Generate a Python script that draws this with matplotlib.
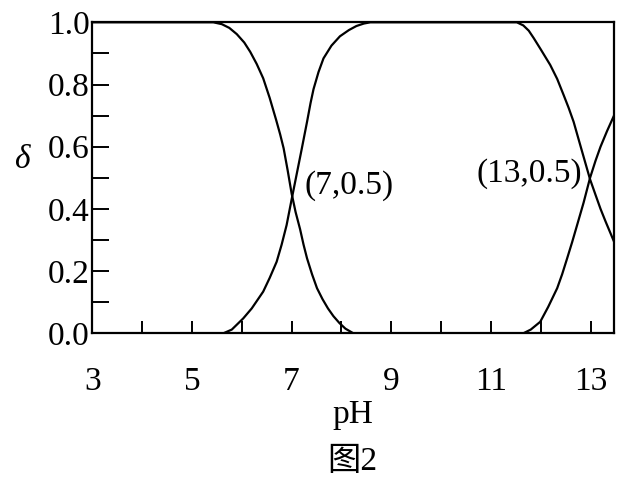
import matplotlib.pyplot as plt

# values (pH, delta)
ph_a = [3.0, 5.43, 5.6, 5.75, 5.9, 6.05, 6.17, 6.3, 6.43, 6.56, 6.69, 6.77, 6.84, 6.92, 7.0,
        7.08, 7.17, 7.24, 7.31, 7.41, 7.51, 7.62, 7.73, 7.84, 7.96, 8.08, 8.24]
delta_a = [1.0, 1.0, 0.994, 0.982, 0.962, 0.935, 0.905, 0.866, 0.82, 0.757, 0.686, 0.64, 0.595, 0.525, 0.45,
           0.39, 0.335, 0.285, 0.241, 0.19, 0.145, 0.11, 0.08, 0.055, 0.033, 0.015, 0.0]

ph_b = [5.63, 5.8, 6.03, 6.2, 6.43, 6.56, 6.70, 6.80, 6.90, 7.0, 7.1, 7.2, 7.31, 7.38, 7.44,
        7.54, 7.64, 7.8, 7.97, 8.15, 8.3, 8.45, 8.58,
        11.52, 11.65, 11.76, 11.86, 12.0, 12.19, 12.33, 12.46, 12.56, 12.66, 12.82, 12.99,
        13.1, 13.2, 13.3, 13.47]
delta_b = [0.0, 0.012, 0.048, 0.08, 0.134, 0.178, 0.23, 0.285, 0.348, 0.43, 0.51, 0.59, 0.68, 0.74, 0.785,
           0.84, 0.884, 0.925, 0.955, 0.975, 0.988, 0.996, 1.0,
           1.0, 0.99, 0.973, 0.949, 0.913, 0.863, 0.818, 0.766, 0.725, 0.68, 0.59, 0.495,
           0.445, 0.40, 0.36, 0.295]

ph_c = [11.65, 11.8, 11.99, 12.15, 12.33, 12.43, 12.53, 12.63, 12.73, 12.86, 12.99, 13.1, 13.2, 13.33, 13.47]
delta_c = [0.0, 0.012, 0.037, 0.085, 0.145, 0.19, 0.241, 0.293, 0.348, 0.42, 0.50, 0.555, 0.60, 0.65, 0.70]

x_ticks = [3, 4, 5, 6, 7, 8, 9, 10, 11, 12, 13]
x_labels = ['3', '', '5', '', '7', '', '9', '', '11', '', '13']
y_ticks = [0.0, 0.1, 0.2, 0.3, 0.4, 0.5, 0.6, 0.7, 0.8, 0.9, 1.0]
y_labels = ['0.0', '', '0.2', '', '0.4', '', '0.6', '', '0.8', '', '1.0']

plt.rcParams['font.family'] = ['Liberation Serif', 'Noto Sans CJK SC']

fig = plt.figure(figsize=(6.21, 4.88), dpi=100)
ax = fig.add_axes([0.1486, 0.317, 0.8401, 0.6373])

# three species curves
for xs, ys in [(ph_a, delta_a), (ph_b, delta_b), (ph_c, delta_c)]:
    ax.plot(xs, ys, color='black', linewidth=1.6, solid_joinstyle='round', solid_capstyle='round')

ax.set_xlim(3, 13.47)
ax.set_ylim(0, 1)
ax.set_xticks(x_ticks)
ax.set_xticklabels(x_labels)
ax.set_yticks(y_ticks)
ax.set_yticklabels(y_labels)
ax.tick_params(axis='x', direction='in', length=8.6, width=1.4, pad=24, labelsize=24)
ax.tick_params(axis='y', direction='in', length=12.2, width=1.4, pad=2, labelsize=24)
for s in ax.spines.values():
    s.set_linewidth(1.6)

ax.text(7.25, 0.475, '(7,0.5)', fontsize=24, ha='left', va='center')
ax.text(12.83, 0.515, '(13,0.5)', fontsize=24, ha='right', va='center')

fig.text(22 / 621, 1 - 160 / 488, 'δ', fontsize=24, fontstyle='italic', ha='center', va='center')
fig.text(0.5675, 1 - 415 / 488, 'pH', fontsize=24, ha='center', va='center')
fig.text(0.5675, 1 - 462 / 488, '图2', fontsize=24, ha='center', va='center')

fig.savefig('out.png', dpi=100, facecolor='white')
